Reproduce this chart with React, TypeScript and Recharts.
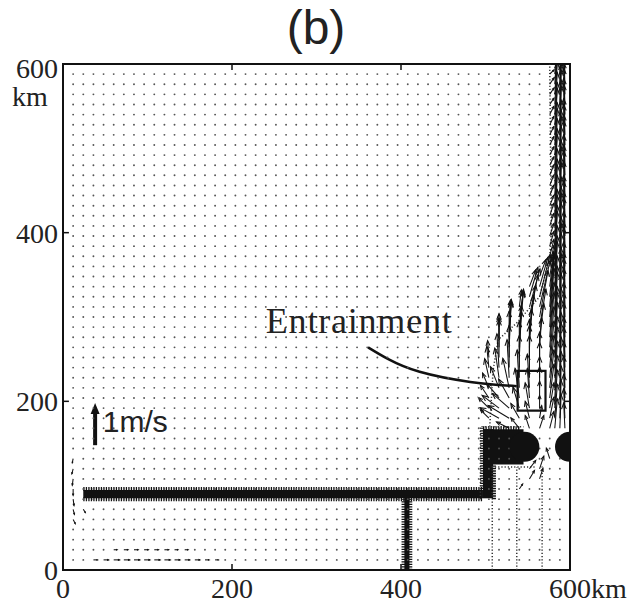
import React from "react";
import {
  ComposedChart,
  XAxis,
  YAxis,
  Scatter,
  Line,
  ReferenceArea,
  ReferenceLine,
  ReferenceDot,
} from "recharts";

// model grid (km)
const gridKm = [
  12, 24, 36, 48, 60, 72, 84, 96, 108, 120, 132, 144, 156, 168, 180, 192, 204,
  216, 228, 240, 252, 264, 276, 288, 300, 312, 324, 336, 348, 360, 372, 384,
  396, 408, 420, 432, 444, 456, 468, 480, 492, 504, 516, 528, 540, 552, 564,
  576, 588,
];
const axisTicks = [0, 200, 400, 600];

// km drawn per 1 m/s of current
const KM_PER_MS = 50;

// [x km, y km, u m/s, v m/s] in the entrainment zone
const plumeArrows: number[][] = [
  [504, 180, -0.2, 0.2], [504, 192, -0.25, 0.25], [504, 204, -0.2, 0.3], [504, 216, -0.15, 0.35],
  [504, 228, -0.1, 0.45], [504, 240, -0.05, 0.5], [504, 252, -0.03, 0.4],
  [516, 180, -0.45, 0.25], [516, 192, -0.4, 0.3], [516, 204, -0.3, 0.35], [516, 216, -0.2, 0.5],
  [516, 228, -0.1, 0.7], [516, 240, -0.05, 0.8], [516, 252, 0, 0.9], [516, 264, 0, 0.8],
  [516, 276, 0, 0.5], [516, 288, 0, 0.3],
  [528, 168, -0.3, 0.15], [528, 180, -0.5, 0.3], [528, 192, -0.4, 0.35], [528, 204, -0.25, 0.45],
  [528, 216, -0.15, 0.7], [528, 228, -0.05, 0.9], [528, 240, 0, 1.0], [528, 252, 0, 1.1],
  [528, 264, 0.05, 1.1], [528, 276, 0.05, 0.9], [528, 288, 0.05, 0.6], [528, 300, 0.03, 0.4],
  [540, 168, -0.2, 0.25], [540, 180, -0.2, 0.35], [540, 192, -0.15, 0.5], [540, 204, -0.1, 0.7],
  [540, 216, -0.05, 0.9], [540, 228, 0, 1.0], [540, 240, 0, 1.1], [540, 252, 0.05, 1.1],
  [540, 264, 0.05, 1.0], [540, 276, 0.1, 1.1], [540, 288, 0.1, 0.9], [540, 300, 0.1, 0.6],
  [540, 312, 0.05, 0.4],
  [552, 168, -0.1, 0.3], [552, 180, -0.1, 0.4], [552, 192, -0.1, 0.6], [552, 204, -0.05, 0.7],
  [552, 216, -0.05, 0.8], [552, 228, 0, 1.0], [552, 240, 0, 1.0], [552, 252, 0, 0.9],
  [552, 264, 0.05, 0.9], [552, 276, 0.1, 1.0], [552, 288, 0.15, 1.0], [552, 300, 0.2, 1.0],
  [552, 312, 0.25, 0.9], [552, 324, 0.2, 0.7], [552, 336, 0.15, 0.4],
  [564, 168, 0.1, 0.3], [564, 180, 0.05, 0.3], [564, 192, 0, 0.3], [564, 204, 0, 0.4],
  [564, 216, 0, 0.5], [564, 228, 0, 0.5], [564, 240, 0, 0.6], [564, 252, 0, 0.6],
  [564, 264, 0.05, 0.7], [564, 276, 0.1, 0.8], [564, 288, 0.15, 0.9], [564, 300, 0.2, 1.1],
  [564, 312, 0.25, 1.1], [564, 324, 0.25, 1.0], [564, 336, 0.2, 0.7], [564, 348, 0.15, 0.4],
];

// boundary current along the eastern wall
const columnRows = [
  168, 180, 192, 204, 216, 228, 240, 252, 264, 276, 288, 300, 312, 324, 336,
  348, 360, 372, 384, 396, 408, 420, 432, 444, 456, 468, 480, 492, 504, 516,
  528, 540, 552, 564, 576, 588,
];
const col576V = [0.4, 0.5, 0.6, 0.8, 0.9, 1.0, 1.1, 1.2, 1.3, 1.3, 1.4, 1.3, 1.2, 1.0, 0.8, 0.6, 0.5, 0.4, 0.35, 0.3, 0.3, 0.3, 0.25, 0.25, 0.25, 0.25, 0.2, 0.2, 0.2, 0.2, 0.2, 0.2, 0.15, 0.15, 0.15, 0.1];
const col582V = [0.7, 0.8, 0.9, 1.0, 1.1, 1.2, 1.2, 1.3, 1.3, 1.2, 1.3, 1.2, 1.2, 1.3, 1.2, 1.2, 1.3, 1.2, 1.2, 1.1, 1.2, 1.2, 1.1, 1.1, 1.2, 1.1, 1.1, 1.1, 1.0, 1.1, 1.0, 1.0, 1.0, 0.9, 0.9, 0.8];
const col588V = [0.8, 0.9, 1.0, 1.1, 1.2, 1.3, 1.3, 1.4, 1.4, 1.5, 1.5, 1.5, 1.4, 1.5, 1.5, 1.4, 1.5, 1.5, 1.4, 1.4, 1.5, 1.4, 1.4, 1.3, 1.4, 1.4, 1.3, 1.3, 1.4, 1.3, 1.3, 1.2, 1.3, 1.2, 1.2, 1.1];
const col594V = [0.6, 0.7, 0.8, 1.0, 1.1, 1.2, 1.2, 1.3, 1.3, 1.3, 1.4, 1.4, 1.3, 1.3, 1.4, 1.3, 1.3, 1.4, 1.3, 1.3, 1.2, 1.3, 1.3, 1.2, 1.2, 1.3, 1.2, 1.2, 1.1, 1.2, 1.1, 1.1, 1.0, 1.0, 0.9, 0.8];
const columnU: Record<number, number> = { 576: 0.1, 582: 0.06, 588: 0.03, 594: -0.03 };

// weak flow near the coasts
const coastArrows: number[][] = [
  [12, 132, -0.02, -0.1], [12, 120, -0.03, -0.12], [12, 108, -0.02, -0.15], [12, 96, 0, -0.15],
  [12, 84, 0.02, -0.15], [12, 72, 0.03, -0.12], [12, 60, 0.05, -0.1], [24, 72, 0.05, -0.08],
  [36, 12, 0.1, 0], [48, 12, 0.12, 0], [60, 12, 0.14, 0], [72, 12, 0.14, 0], [84, 12, 0.14, 0],
  [96, 12, 0.14, 0], [108, 12, 0.14, 0], [120, 12, 0.14, 0], [132, 12, 0.13, 0], [144, 12, 0.12, 0],
  [156, 12, 0.12, 0], [168, 12, 0.1, 0], [180, 12, 0.08, 0],
  [60, 24, 0.08, 0], [72, 24, 0.1, 0], [84, 24, 0.1, 0], [96, 24, 0.1, 0], [108, 24, 0.1, 0],
  [120, 24, 0.1, 0], [132, 24, 0.08, 0], [144, 24, 0.08, 0],
  [552, 120, 0.15, 0.2], [564, 120, 0.1, 0.3], [552, 108, 0.12, 0.2], [564, 108, 0.08, 0.25],
  [540, 96, 0.08, 0.12], [576, 132, -0.08, 0.25],
];

// land: [x1, x2, y1, y2] in km
const landRects = [
  [24, 497, 85, 95],
  [497, 509, 85, 167],
  [497, 545, 125, 167],
  [404, 410, 0, 88],
];
const landDots = [
  { x: 546, y: 146, r: 15 },
  { x: 600, y: 146, r: 15 },
];
// fringed coast edges: [x1, y1, x2, y2]
const coastEdges = [
  [24, 84, 497, 84],
  [24, 96, 497, 96],
  [497, 168, 540, 168],
  [403, 0, 403, 84],
  [411, 0, 411, 84],
  [496, 96, 496, 168],
  [510, 84, 510, 124],
];

const contourA = [
  { x: 505, y: 170 }, { x: 509, y: 237 }, { x: 515, y: 273 }, { x: 537, y: 293 },
  { x: 564, y: 324 }, { x: 576, y: 371 }, { x: 578, y: 403 }, { x: 576, y: 600 },
];
const contourB = [
  { x: 508, y: 0 }, { x: 508, y: 122 }, { x: 560, y: 122 },
];
const contourC = [{ x: 537, y: 0 }, { x: 537, y: 122 }];
const contourD = [{ x: 567, y: 0 }, { x: 567, y: 124 }];
const contourE = [
  { x: 494, y: 84 }, { x: 494, y: 170 }, { x: 545, y: 170 },
];

const entrainmentBox = { x1: 538, x2: 571, y1: 189, y2: 236 };
const annotationCurve = [
  { x: 361, y: 264 }, { x: 385, y: 250 }, { x: 422, y: 235 }, { x: 482, y: 223 }, { x: 537, y: 218 },
];
const textLabels = [
  { x: 240, y: 281, text: "Entrainment", kind: "serif" },
  { x: 47, y: 164, text: "1m/s", kind: "sans" },
];
const scaleArrow = { x: 38, y: 148, v: 1 };

const frameTicks = [
  [200, 0, 200, 7], [400, 0, 400, 7], [200, 593, 200, 600], [400, 593, 400, 600],
  [0, 200, 7, 200], [0, 400, 7, 400], [593, 200, 600, 200], [593, 400, 600, 400],
];

const allArrows: number[][] = [
  ...plumeArrows,
  ...coastArrows,
  ...columnRows.flatMap((y, i) => [
    [576, y, columnU[576], col576V[i]],
    [582, y, columnU[582], col582V[i]],
    [588, y, columnU[588], col588V[i]],
    [594, y, columnU[594], col594V[i]],
  ]),
];
const arrowKeys = new Set(allArrows.map((a) => `${a[0]},${a[1]}`));
const dots = gridKm.flatMap((x) =>
  gridKm.filter((y) => !arrowKeys.has(`${x},${y}`)).map((y) => ({ x, y })),
);

const SERIF = "'Liberation Serif', 'Times New Roman', serif";
const SANS = "'Liberation Sans', Arial, sans-serif";

function ArrowShape(props: any) {
  const { x1, y1, x2, y2, clipPath } = props;
  const dx = x2 - x1;
  const dy = y2 - y1;
  const len = Math.hypot(dx, dy);
  if (!len || len < 2) return <circle cx={x1} cy={y1} r={1} fill="#333" />;
  const ux = dx / len;
  const uy = dy / len;
  const h = Math.min(6, len * 0.3);
  const w = h * 0.4;
  const bx = x2 - ux * h;
  const by = y2 - uy * h;
  return (
    <g stroke="#111" strokeWidth={1.05} fill="none" clipPath={clipPath}>
      <line x1={x1} y1={y1} x2={x2} y2={y2} />
      <polyline points={`${bx - uy * w},${by + ux * w} ${x2},${y2} ${bx + uy * w},${by - ux * w}`} />
    </g>
  );
}

function ScaleArrowShape(props: any) {
  const { x1, y1, x2, y2 } = props;
  const head = 11;
  return (
    <g fill="#111">
      <line x1={x1} y1={y1} x2={x2} y2={y2 + head - 1} stroke="#111" strokeWidth={4} />
      <polygon points={`${x2 - 4.5},${y2 + head} ${x2},${y2} ${x2 + 4.5},${y2 + head}`} />
    </g>
  );
}

const YTick = (p: any) => {
  const v = p.payload.value;
  const y = p.y;
  return (
    <g fontFamily={SERIF} fontSize={28} fill="#222">
      <text x={58} y={v === 600 ? y + 14 : y + 10} textAnchor="end">
        {v}
      </text>
      {v === 600 && (
        <text x={12} y={y + 42}>
          km
        </text>
      )}
    </g>
  );
};

const XTick = (p: any) => {
  const v = p.payload.value;
  return (
    <text
      x={v === 600 ? p.x - 21 : p.x}
      y={598}
      textAnchor={v === 600 ? "start" : "middle"}
      fontFamily={SERIF}
      fontSize={28}
      fill="#222"
    >
      {v === 600 ? "600km" : v}
    </text>
  );
};

export default function App() {
  return (
    <div style={{ position: "absolute", left: 0, top: 0, width: 630, height: 609, background: "#fff" }}>
      <svg width={630} height={60} style={{ position: "absolute", left: 0, top: 0 }}>
        <text x={316} y={44} textAnchor="middle" fontFamily={SANS} fontSize={48} fill="#222">
          (b)
        </text>
      </svg>
      <div style={{ position: "absolute", left: 0, top: 0 }}>
        <ComposedChart width={630} height={609} margin={{ top: 64, right: 60, bottom: 0, left: 0 }}>
          <XAxis
            type="number"
            dataKey="x"
            domain={[0, 600]}
            ticks={axisTicks}
            allowDataOverflow
            axisLine={false}
            tickLine={false}
            height={39}
            tick={<XTick />}
          />
          <YAxis
            type="number"
            dataKey="y"
            domain={[0, 600]}
            ticks={axisTicks}
            allowDataOverflow
            axisLine={false}
            tickLine={false}
            width={63}
            tick={<YTick />}
          />
          <Scatter
            data={dots}
            isAnimationActive={false}
            shape={(p: any) => <circle cx={p.cx} cy={p.cy} r={0.95} fill="#555" />}
          />
          {landRects.map(([x1, x2, y1, y2], i) => (
            <ReferenceArea key={`l${i}`} x1={x1} x2={x2} y1={y1} y2={y2} fill="#111" fillOpacity={1} stroke="none" />
          ))}
          {landDots.map((d, i) => (
            <ReferenceDot key={`d${i}`} x={d.x} y={d.y} r={d.r} fill="#111" stroke="none" ifOverflow="hidden" />
          ))}
          {coastEdges.map(([x1, y1, x2, y2], i) => (
            <ReferenceLine
              key={`e${i}`}
              segment={[{ x: x1, y: y1 }, { x: x2, y: y2 }]}
              stroke="#111"
              strokeWidth={4}
              strokeDasharray="1.3 1.2"
              ifOverflow="visible"
            />
          ))}
          {[contourA, contourB, contourC, contourD, contourE].map((c, i) => (
            <Line
              key={`c${i}`}
              data={c}
              dataKey="y"
              type="linear"
              stroke="#333"
              strokeWidth={1.5}
              strokeDasharray="1.2 2"
              dot={false}
              activeDot={false}
              isAnimationActive={false}
            />
          ))}
          {allArrows.map(([x, y, u, v], i) => (
            <ReferenceLine
              key={`a${i}`}
              segment={[{ x, y }, { x: x + u * KM_PER_MS, y: y + v * KM_PER_MS }]}
              ifOverflow="hidden"
              shape={ArrowShape}
            />
          ))}
          <ReferenceArea
            x1={entrainmentBox.x1}
            x2={entrainmentBox.x2}
            y1={entrainmentBox.y1}
            y2={entrainmentBox.y2}
            fill="none"
            stroke="#111"
            strokeWidth={2.2}
          />
          <Line
            data={annotationCurve}
            dataKey="y"
            type="natural"
            stroke="#111"
            strokeWidth={2.5}
            dot={false}
            activeDot={false}
            isAnimationActive={false}
          />
          <ReferenceLine
            segment={[{ x: scaleArrow.x, y: scaleArrow.y }, { x: scaleArrow.x, y: scaleArrow.y + scaleArrow.v * KM_PER_MS }]}
            shape={ScaleArrowShape}
            ifOverflow="visible"
          />
          <Scatter
            data={textLabels}
            isAnimationActive={false}
            shape={(p: any) => (
              <text
                x={p.cx}
                y={p.cy}
                fontFamily={p.payload.kind === "serif" ? SERIF : SANS}
                fontSize={p.payload.kind === "serif" ? 36 : 30}
                letterSpacing={p.payload.kind === "serif" ? 0.8 : 0}
                fill="#222"
              >
                {p.payload.text}
              </text>
            )}
          />
          {frameTicks.map(([x1, y1, x2, y2], i) => (
            <ReferenceLine
              key={`t${i}`}
              segment={[{ x: x1, y: y1 }, { x: x2, y: y2 }]}
              stroke="#111"
              strokeWidth={1.5}
              ifOverflow="visible"
            />
          ))}
          <ReferenceArea x1={0} x2={600} y1={0} y2={600} fill="none" stroke="#111" strokeWidth={2} ifOverflow="visible" />
        </ComposedChart>
      </div>
    </div>
  );
}
